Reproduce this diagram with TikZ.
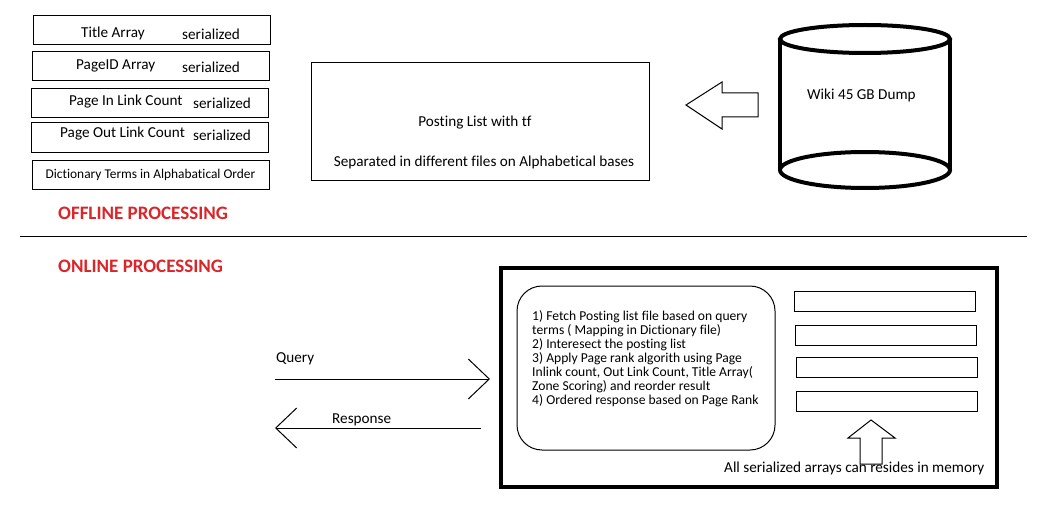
\documentclass[tikz,border=0pt]{standalone}
\usepackage{fontspec}
\setmainfont{Carlito}[Ligatures=NoCommon]
\usetikzlibrary{arrows.meta}
\usetikzlibrary{positioning}

\definecolor{headred}{RGB}{218,37,41}
\tikzset{
  arraybox/.style={draw, line width=1pt, minimum width=237pt, minimum height=29pt, inner sep=0pt},
  membox/.style={draw, line width=1pt, minimum width=181pt, minimum height=20pt, inner sep=0pt},
  txt/.style={font=\fontsize{15.2}{17}\selectfont, inner sep=0pt},
  head/.style={font=\bfseries\fontsize{19}{22}\selectfont, text=headred, inner sep=0pt},
  barb/.style={-{Straight Barb[length=21pt, width=40pt]}, line width=1pt},
}

\begin{document}
\begin{tikzpicture}[x=1pt, y=-1pt]
  \useasboundingbox (0,0) rectangle (1038,508);

  % offline: serialized arrays
  \node[arraybox] (title) at (151.5,30.5) {};
  \node[arraybox] (pageid) at (150.5,66.5) {};
  \node[arraybox] (inlink) at (149.5,103.5) {};
  \node[arraybox] (outlink) at (149.5,137.5) {};
  \node[arraybox, txt, font=\fontsize{13.4}{15}\selectfont] (dict) at (150.5,174.5) {Dictionary Terms in Alphabatical Order};
  \node[txt, anchor=west] (titlet) at (81,33) {Title Array};
  \node[txt, anchor=west] at (182,34) {serialized};
  \node[txt, anchor=west] (pageidt) at (76,66) {PageID Array};
  \node[txt, anchor=west] at (182,67) {serialized};
  \node[txt, anchor=west] (inlinkt) at (69,102) {Page In Link Count};
  \node[txt, anchor=west] at (193,103) {serialized};
  \node[txt, anchor=west] (outlinkt) at (60,134) {Page Out Link Count};
  \node[txt, anchor=west] at (193,135) {serialized};
  \node[head, anchor=west] (offline) at (58,213) {OFFLINE PROCESSING};

  % posting list and dump
  \node[draw, line width=1pt, minimum width=338pt, minimum height=117pt] (posting) at (480,121.5) {};
  \node[txt] at (475,123) {Posting List with tf};
  \node[txt] at (484,162) {Separated in different files on Alphabetical bases};
  \draw[line width=1pt] (686,105) -- (722,82) -- (722,93) -- (758,93) -- (758,117) -- (722,117) -- (722,129) -- cycle;
  \draw[line width=4pt] (780,39) -- (780,170) (950,39) -- (950,170);
  \draw[line width=4pt] (865,39) ellipse [x radius=85, y radius=14];
  \draw[line width=4pt] (865,170) ellipse [x radius=85, y radius=18];
  \node[txt, anchor=west] (wiki) at (807,95) {Wiki 45 GB Dump};

  \draw[line width=1pt] (20,236) -- (1027,236);

  % online
  \node[head, anchor=west] (online) at (58,266) {ONLINE PROCESSING};
  \node[draw, line width=4pt, minimum width=496pt, minimum height=219pt] (memory) at (749,377.5) {};
  \node[draw, line width=1pt, rounded corners=25pt, minimum width=258pt, minimum height=164pt] (engine) at (646,368) {};
  \node[txt, anchor=north west, align=left, font=\fontsize{13.6}{14}\selectfont] (steps) at (532,310) {1) Fetch Posting list file based on query\\terms ( Mapping in Dictionary file)\\2) Interesect the posting list\\3) Apply Page rank algorith using Page\\Inlink count, Out Link Count, Title Array(\\Zone Scoring) and reorder result\\4) Ordered response based on Page Rank};
  \node[membox] (arr1) at (885,301) {};
  \node[membox] (arr2) at (885.5,335) {};
  \node[membox] (arr3) at (886.5,367) {};
  \node[membox] (arr4) at (886.5,401.5) {};
  \draw[line width=1pt] (871,420) -- (895,438) -- (882,438) -- (882,464) -- (860,464) -- (860,438) -- (848,438) -- cycle;
  \node[txt, anchor=base west] (resides) at (724,472.5) {All serialized arrays can resides in memory};

  \coordinate (qin) at (275,379);
  \coordinate (qout) at (490,379);
  \coordinate (rin) at (481,428);
  \coordinate (rout) at (275,428);
  \draw[barb] (qin) -- (qout);
  \draw[barb] (rin) -- (rout);
  \node[txt, anchor=west] (query) at (276,359) {Query};
  \node[txt, anchor=west] (response) at (332,420) {Response};
\end{tikzpicture}
\end{document}
